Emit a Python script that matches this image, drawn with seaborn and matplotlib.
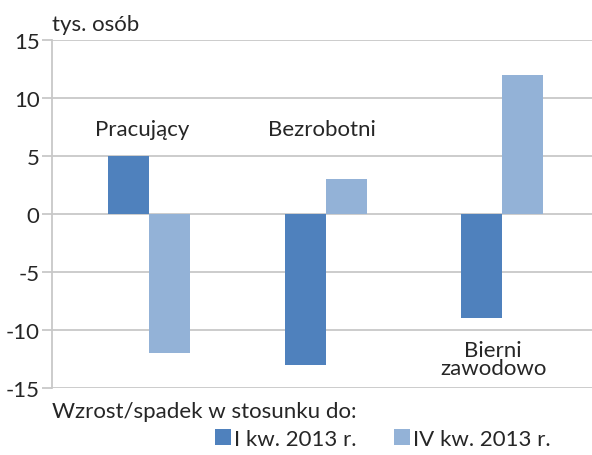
import matplotlib
matplotlib.use("Agg")
import matplotlib.pyplot as plt
import seaborn as sns
import pandas as pd
from matplotlib.patches import Patch

categories = ["Pracujący", "Bezrobotni", "Bierni zawodowo"]
series_names = ["I kw. 2013 r.", "IV kw. 2013 r."]
values_q1 = [5, -13, -9]
values_q4 = [-12, 3, 12]
y_ticks = [-15, -10, -5, 0, 5, 10, 15]
colors = ["#4F81BD", "#93B2D7"]

sns.set_theme(style="white")
plt.rcParams['font.family'] = ['Lato', 'DejaVu Sans']

df = pd.DataFrame({
    "cat": categories * 2,
    "series": [series_names[0]] * 3 + [series_names[1]] * 3,
    "val": values_q1 + values_q4,
})

FS = 16
TXT = "#262626"

fig = plt.figure(figsize=(5.92, 4.56), dpi=100)
ax = fig.add_axes([52/592, 1 - 388.7/456, 1 - 52/592, (388.7 - 41.3)/456])

sns.barplot(data=df, x="cat", y="val", hue="series", palette=colors,
            width=0.465, saturation=1, ax=ax, legend=False, zorder=3,
            edgecolor="none", linewidth=0)

ax.set_xlim(-0.55, 2.51)
ax.set_ylim(-15, 15)
ax.set_yticks(y_ticks)
ax.set_yticklabels([str(v) for v in y_ticks], fontsize=FS, color=TXT)
ax.set_xticks([])
ax.set_xlabel("")
ax.set_ylabel("")
ax.grid(axis="y", color="#C8C8C8", linewidth=1.3, zorder=0)
ax.tick_params(axis="y", length=7, width=1.3, color="#C8C8C8", pad=2, left=True)
for s in ["top", "right", "bottom"]:
    ax.spines[s].set_visible(False)
ax.spines["left"].set_color("#C8C8C8")
ax.spines["left"].set_linewidth(1.3)

# category labels
ax.text(-0.04, 7.3, categories[0], ha="center", va="center", fontsize=FS, color=TXT)
ax.text(0.98, 7.3, categories[1], ha="center", va="center", fontsize=FS, color=TXT)
ax.text(1.95, -12.5, "Bierni\nzawodowo", ha="center", va="center",
        fontsize=FS, color=TXT, linespacing=0.85)

fig.text(52/592, 1 - 25/456, "tys. osób", ha="left", va="center", fontsize=FS, color=TXT)
fig.text(52/592, 1 - 412/456, "Wzrost/spadek w stosunku do:", ha="left", va="center", fontsize=FS, color=TXT)

handles = [Patch(facecolor=c, edgecolor="none") for c in colors]
fig.legend(handles, series_names, loc="center", bbox_to_anchor=(383/592, 1 - 440/456),
           ncol=2, frameon=False, fontsize=FS, handlelength=0.7, handleheight=0.7,
           handletextpad=0.15, columnspacing=1.7, labelcolor=TXT)

fig.savefig("out.png", dpi=100)
